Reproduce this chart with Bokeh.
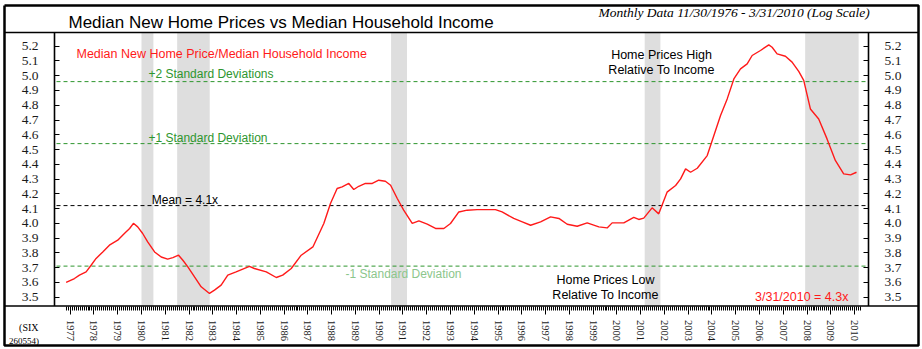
from bokeh.plotting import figure
from bokeh.models import (Range1d, LinearAxis, FixedTicker, Label,
                          PrintfTickFormatter)
from bokeh.embed import file_html
from bokeh.resources import INLINE

# ---------------- data ----------------
years = [1976.83, 1977.18, 1977.39, 1977.67, 1977.88, 1978.09, 1978.37, 1978.65,
         1979.00, 1979.28, 1979.50, 1979.66, 1979.84, 1980.05, 1980.26, 1980.55,
         1980.83, 1981.10, 1981.32, 1981.56, 1981.74, 1981.95, 1982.23, 1982.51,
         1982.86, 1983.07, 1983.35, 1983.63, 1983.98, 1984.54, 1984.75, 1985.25,
         1985.67, 1985.94, 1986.30, 1986.72, 1987.21, 1987.67, 1987.95, 1988.23,
         1988.44, 1988.72, 1988.93, 1989.14, 1989.42, 1989.71, 1989.98, 1990.26,
         1990.48, 1990.76, 1991.03, 1991.39, 1991.67, 1992.02, 1992.37, 1992.72,
         1993.00, 1993.35, 1993.70, 1994.12, 1994.54, 1994.89, 1995.17, 1995.66,
         1996.02, 1996.37, 1996.79, 1997.21, 1997.56, 1997.91, 1998.33, 1998.75,
         1999.24, 1999.59, 1999.80, 2000.29, 2000.71, 2000.92, 2001.13, 2001.48,
         2001.76, 2002.11, 2002.47, 2002.68, 2002.89, 2003.10, 2003.38, 2003.80,
         2004.08, 2004.36, 2004.64, 2004.92, 2005.20, 2005.48, 2005.69, 2006.04,
         2006.39, 2006.53, 2006.74, 2007.09, 2007.37, 2007.65, 2007.86, 2008.14,
         2008.49, 2008.84, 2009.19, 2009.54, 2009.83, 2010.08]
ratio = [3.600, 3.626, 3.649, 3.671, 3.716, 3.762, 3.806, 3.852,
         3.886, 3.931, 3.965, 4.000, 3.976, 3.931, 3.874, 3.806,
         3.772, 3.757, 3.768, 3.784, 3.750, 3.705, 3.637, 3.570,
         3.525, 3.547, 3.581, 3.649, 3.671, 3.709, 3.694, 3.671,
         3.633, 3.649, 3.694, 3.784, 3.840, 3.999, 4.134, 4.236,
         4.247, 4.270, 4.229, 4.251, 4.270, 4.270, 4.292, 4.285,
         4.258, 4.168, 4.089, 3.999, 4.016, 3.994, 3.965, 3.965,
         3.999, 4.077, 4.089, 4.093, 4.093, 4.093, 4.077, 4.033,
         4.010, 3.987, 4.010, 4.044, 4.033, 3.994, 3.980, 4.003,
         3.976, 3.969, 4.003, 4.003, 4.041, 4.026, 4.035, 4.105,
         4.064, 4.211, 4.256, 4.301, 4.369, 4.346, 4.373, 4.459,
         4.595, 4.730, 4.843, 4.978, 5.046, 5.080, 5.137, 5.171,
         5.209, 5.193, 5.148, 5.132, 5.092, 5.029, 4.968, 4.775,
         4.707, 4.572, 4.426, 4.335, 4.328, 4.346]

rec_start = [1980.00, 1981.50, 1990.50, 2001.17, 2007.92]
rec_end = [1980.50, 1982.87, 1991.17, 2001.83, 2010.17]

sd_levels = [4.96, 4.54, 4.12, 3.71]
sd_labels = ["+2 Standard Deviations", "+1 Standard Deviation", "Mean = 4.1x", "-1 Standard Deviation"]

y_ticks = [3.5, 3.6, 3.7, 3.8, 3.9, 4.0, 4.1, 4.2, 4.3, 4.4, 4.5, 4.6, 4.7, 4.8, 4.9, 5.0, 5.1, 5.2]
year_ticks = list(range(1977, 2011))

title_text = "Median New Home Prices vs Median Household Income"
subtitle_text = "Monthly Data 11/30/1976 - 3/31/2010 (Log Scale)"
series_label = "Median New Home Price/Median Household Income"
last_label = "3/31/2010 = 4.3x"

# ---------------- geometry ----------------
SANS = "Liberation Sans"
SERIF = "Liberation Serif"

# pixel -> data helpers (the frame covers the whole 922x349 canvas)
def fx(px):
    return 1980.0 + (px - 141.0) / 23.77

def fy(py):
    return 5.2 - (py - 45.7) * 0.1 / 14.76

XL, XR = fx(54), fx(868)        # plot box left / right (years)
YB, YT = fy(305.5), fy(32)      # plot box bottom / top (ratio)

p = figure(width=922, height=349, output_backend="svg", toolbar_location=None,
           x_range=Range1d(fx(0), fx(922)), y_range=Range1d(fy(349), fy(0)),
           x_axis_location=None, y_axis_location=None,
           min_border=0, min_border_left=0, min_border_right=0,
           min_border_top=0, min_border_bottom=0, title=None)
p.grid.visible = False
p.background_fill_color = "white"
p.border_fill_color = "white"
p.outline_line_color = None

# recession shading
p.quad(left=rec_start, right=rec_end, bottom=YB, top=YT,
       fill_color="#dedede", line_color=None)

# standard deviation lines
sd_colors = ["#2e962e", "#2e962e", "black", "#2e962e"]
p.segment(x0=[fx(56)] * len(sd_levels), x1=[XR] * len(sd_levels),
          y0=sd_levels, y1=sd_levels, line_color=sd_colors,
          line_dash="4 3", line_width=1)

# main series
p.line(years, ratio, line_color="#ff1a1a", line_width=1.4)

# ---------------- y axes ----------------
def make_y(loc):
    ax = LinearAxis(fixed_location=loc, bounds=(YB, YT))
    ax.ticker = FixedTicker(ticks=y_ticks, minor_ticks=[])
    ax.formatter = PrintfTickFormatter(format="%.1f")
    ax.major_tick_in = 5
    ax.major_tick_out = 0
    ax.minor_tick_in = 0
    ax.minor_tick_out = 0
    ax.major_tick_line_color = "black"
    ax.axis_line_color = None
    ax.major_label_standoff = 16
    ax.major_label_text_font = SERIF
    ax.major_label_text_font_size = "13.5px"
    ax.major_label_text_color = "#1a1a1a"
    return ax

p.add_layout(make_y(XL), "left")
p.add_layout(make_y(XR), "right")

# ---------------- x axis ----------------
month_ticks = [y + m / 12 for y in range(1976, 2011) for m in range(1, 12)
               if 1976.8 <= y + m / 12 <= 2010.26]
xa = LinearAxis(fixed_location=YB, bounds=(XL, XR))
xa.ticker = FixedTicker(ticks=year_ticks, minor_ticks=month_ticks)
xa.formatter = PrintfTickFormatter(format="%d")
xa.major_tick_in = 0
xa.major_tick_out = 8
xa.minor_tick_in = 0
xa.minor_tick_out = 4
xa.major_tick_line_color = "black"
xa.minor_tick_line_color = "black"
xa.axis_line_color = None
xa.major_label_orientation = "vertical"
xa.major_label_standoff = 6
xa.major_label_text_font = SERIF
xa.major_label_text_font_size = "10.5px"
xa.major_label_text_color = "#1a1a1a"
p.add_layout(xa, "below")

# ---------------- chart frame lines, drawn on top of the axes ----------------
p.line(x=[fx(4), fx(918), fx(918), fx(4), fx(4)],
       y=[fy(5), fy(5), fy(345), fy(345), fy(5)],
       line_color="black", line_width=2.5, level="overlay")
p.segment(x0=[fx(4), fx(4), fx(54), fx(868)],
          x1=[fx(918), fx(918), fx(54), fx(868)],
          y0=[fy(32), fy(305.5), fy(32), fy(32)],
          y1=[fy(32), fy(305.5), fy(305.5), fy(305.5)],
          line_color="black", line_width=1.6, level="overlay")

# ---------------- texts ----------------
def clabel(x, y, text, size, color="black", font=SANS, align="left", style="normal"):
    p.add_layout(Label(x=x, y=y, x_units="canvas", y_units="canvas", text=text,
                       text_font=font, text_font_size=size, text_color=color,
                       text_align=align, text_baseline="middle", text_font_style=style))

clabel(68, 22, title_text, "17px")
clabel(598, 12, subtitle_text, "13.5px", font=SERIF, style="italic")
clabel(76, 53, series_label, "12.5px", color="#ff1a1a")
clabel(661, 54, "Home Prices High", "12.5px", align="center")
clabel(661, 69, "Relative To Income", "12.5px", align="center")
clabel(605, 279, "Home Prices Low", "12.5px", align="center")
clabel(605, 294, "Relative To Income", "12.5px", align="center")
clabel(848, 296, last_label, "12.5px", color="#ff1a1a", align="right")
clabel(38, 327, "(SIX", "10px", font=SERIF, align="right")
clabel(38.5, 340, "260554)", "9px", font=SERIF, align="right")

# standard deviation labels (anchored to the lines)
sd_x = [1980.29, 1980.29, 1980.43, 1988.58]
sd_off = [8, 6, 6, -8]
sd_text_colors = ["#2e962e", "#2e962e", "black", "#8cc68c"]
for lvl, txt, xx, off, col in zip(sd_levels, sd_labels, sd_x, sd_off, sd_text_colors):
    p.add_layout(Label(x=xx, y=lvl, y_offset=off, text=txt, text_font=SANS,
                       text_font_size="12px", text_color=col, text_align="left",
                       text_baseline="middle"))

open("out.html", "w").write(file_html(p, INLINE))
